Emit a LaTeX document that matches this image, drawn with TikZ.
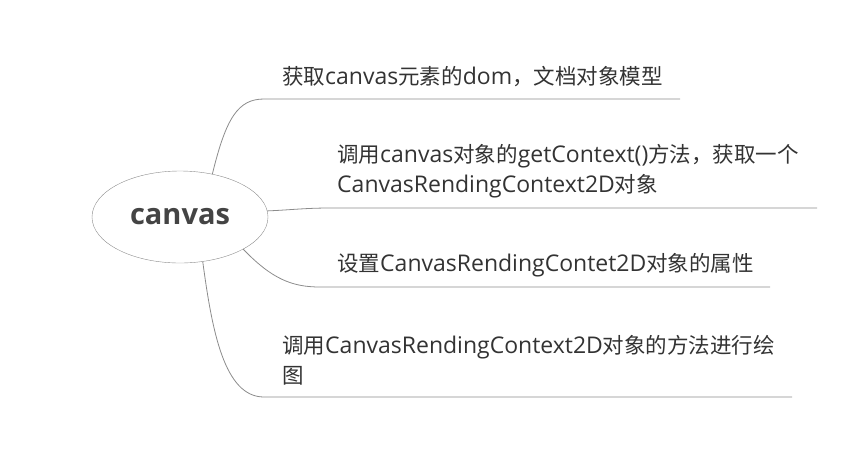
\documentclass[tikz,border=0pt]{standalone}
\usepackage{fontspec}
\setmainfont{Noto Sans CJK SC}
\newfontfamily\latf{Open Sans}
\newcommand\en[1]{{\fontsize{23}{30}\selectfont\latf #1}}
\usetikzlibrary{shapes.geometric}
\definecolor{txtgray}{HTML}{333333}
\definecolor{rootgray}{HTML}{444444}
\definecolor{linegray}{HTML}{8C8C8C}
\begin{document}
\begin{tikzpicture}[
    x=1pt, y=-1pt,
    font=\fontsize{21.5}{30}\selectfont
]
	\tikzset{
	    rootnode/.style = {ellipse, draw=linegray, minimum width=176, minimum height=92, inner sep=0,
	        font=\fontsize{29}{30}\selectfont\latf\bfseries, text=rootgray},
	    leafnode/.style = {anchor=west, inner sep=0, align=left, text=txtgray},
	    branch/.style = {draw=linegray, line width=0.8pt}
	}
	\useasboundingbox (0,0) rectangle (863,459);
	\node[rootnode] at (180,217) (root) {canvas};
	% branch texts
	\node[leafnode] at (282,77) (t1) {获取\en{canvas}元素的\en{dom}，文档对象模型};
	\node[leafnode] at (337,171) (t2) {调用\en{canvas}对象的\en{getContext()}方法，获取一个\\\en{CanvasRendingContext2D}对象};
	\node[leafnode] at (337,265) (t3) {设置\en{CanvasRendingContet2D}对象的属性};
	\node[leafnode] at (282,360) (t4) {调用\en{CanvasRendingContext2D}对象的方法进行绘\\图};
	% underline ends
	\coordinate (a1) at (264,99);  \coordinate (b1) at (680,99);
	\coordinate (a2) at (330,208); \coordinate (b2) at (817,208);
	\coordinate (a3) at (320,287); \coordinate (b3) at (770,287);
	\coordinate (a4) at (264,397); \coordinate (b4) at (792,397);
	\draw[branch] (root.53) .. controls (226,118) and (238,99) .. (a1) -- (b1);
	\draw[branch] (root.4) .. controls (290,210) and (305,208) .. (a2) -- (b2);
	\draw[branch] (root.-27) .. controls (272,279) and (292,287) .. (a3) -- (b3);
	\draw[branch] (root.-63) .. controls (212,330) and (224,397) .. (a4) -- (b4);
\end{tikzpicture}
\end{document}
